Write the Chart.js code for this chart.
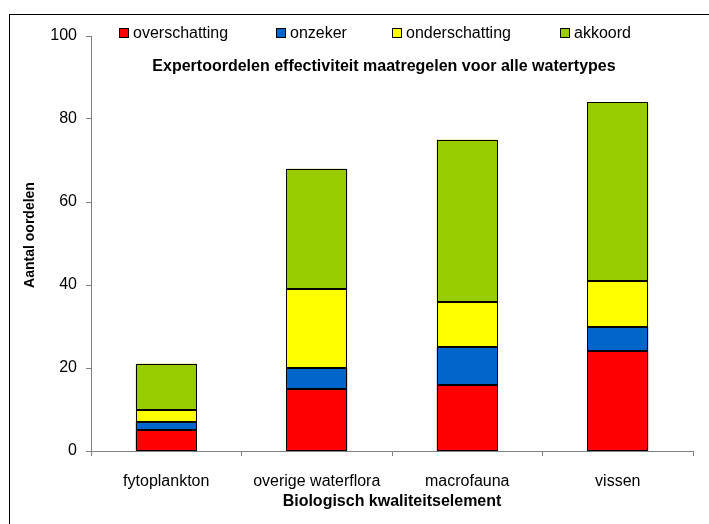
<!DOCTYPE html>
<html>
<head>
<meta charset="utf-8">
<script src="https://cdn.jsdelivr.net/npm/chart.js@4.4.0/dist/chart.umd.min.js"></script>
<style>
  html, body { margin: 0; padding: 0; background: #fff; overflow: hidden; }
  #wrap { position: relative; width: 709px; height: 524px; }
  #frame { position: absolute; left: 9px; top: 14px; width: 800px; height: 600px; border: 1px solid #000; }
  canvas { position: absolute; left: 0; top: 0; }
</style>
</head>
<body>
<div id="wrap">
  <div id="frame"></div>
  <canvas id="grafiek" width="709" height="524"></canvas>
</div>
<script>
// Gegevens
const categorieen = ['fytoplankton', 'overige waterflora', 'macrofauna', 'vissen'];
const overschatting = [5, 15, 16, 24];
const onzeker = [2, 5, 9, 6];
const onderschatting = [3, 19, 11, 11];
const akkoord = [11, 29, 39, 43];
const yTicks = [0, 20, 40, 60, 80, 100];

const FONT = "'Liberation Sans', Arial, sans-serif";

function reeks(label, data, kleur) {
  return {
    label: label,
    data: data,
    backgroundColor: kleur,
    borderWidth: 0,
    inflateAmount: 0,
    categoryPercentage: 1,
    barPercentage: 0.405
  };
}

const dataGrafiek = {
  labels: categorieen,
  datasets: [
    reeks('overschatting', overschatting, '#FF0000'),
    reeks('onzeker', onzeker, '#0066CC'),
    reeks('onderschatting', onderschatting, '#FFFF00'),
    reeks('akkoord', akkoord, '#99CC00')
  ]
};

// scherpe zwarte randen om elk balksegment
const randen = {
  id: 'randen',
  afterDatasetsDraw(chart) {
    const ctx = chart.ctx;
    ctx.save();
    ctx.strokeStyle = '#000';
    ctx.lineWidth = 1;
    chart.data.datasets.forEach((ds, i) => {
      chart.getDatasetMeta(i).data.forEach(bar => {
        const p = bar.getProps(['x', 'y', 'base', 'width'], true);
        const l = Math.round(p.x - p.width / 2) + 0.5;
        const r = Math.round(p.x + p.width / 2) - 0.5;
        const t = Math.round(Math.min(p.y, p.base)) + 0.5;
        const b = Math.round(Math.max(p.y, p.base)) - 0.5;
        ctx.strokeRect(l, t, r - l, b - t);
      });
    });
    ctx.restore();
  }
};

// legenda, titel en y-astitel liggen op vaste plekken
const legendaX = [119, 276, 392, 560];
const titelTekst = 'Expertoordelen effectiviteit maatregelen voor alle watertypes';
const yTitel = 'Aantal oordelen';

const overlay = {
  id: 'overlay',
  afterDraw(chart) {
    const ctx = chart.ctx;
    ctx.save();
    ctx.font = '16px ' + FONT;
    ctx.textBaseline = 'middle';
    chart.data.datasets.forEach((ds, i) => {
      const x = legendaX[i];
      ctx.fillStyle = ds.backgroundColor;
      ctx.fillRect(x + 0.5, 28.5, 9, 9);
      ctx.strokeStyle = '#000';
      ctx.lineWidth = 1;
      ctx.strokeRect(x + 0.5, 28.5, 9, 9);
      ctx.fillStyle = '#000';
      ctx.fillText(ds.label, x + 14, 33.5);
    });
    ctx.font = 'bold 16px ' + FONT;
    ctx.textAlign = 'center';
    ctx.fillText(titelTekst, 384, 67);

    ctx.font = 'bold 14px ' + FONT;
    ctx.translate(30, 235);
    ctx.rotate(-Math.PI / 2);
    ctx.fillText(yTitel, 0, 0);
    ctx.restore();
  }
};

const config = {
  type: 'bar',
  data: dataGrafiek,
  options: {
    responsive: false,
    animation: false,
    layout: { padding: { top: 36, right: 16, bottom: 0, left: 0 } },
    plugins: {
      legend: { display: false },
      title: { display: false },
      tooltip: { enabled: false }
    },
    scales: {
      x: {
        stacked: true,
        grid: { offset: true, drawOnChartArea: false, tickLength: 5, color: '#808080' },
        border: { color: '#808080' },
        ticks: { color: '#000', font: { family: FONT, size: 16 }, padding: 16, maxRotation: 0 },
        title: { display: true, text: 'Biologisch kwaliteitselement', color: '#000',
                 font: { family: FONT, size: 16, weight: 'bold' }, padding: { top: 2, bottom: 13 } },
        afterFit(scale) { scale.height = 73; }
      },
      y: {
        stacked: true,
        min: 0,
        max: 100,
        afterBuildTicks(scale) { scale.ticks = yTicks.map(v => ({ value: v })); },
        grid: { drawOnChartArea: false, tickLength: 5, color: '#808080' },
        border: { color: '#808080' },
        ticks: { color: '#000', font: { family: FONT, size: 16 }, padding: 9 },
        title: { display: false },
        afterFit(scale) { scale.width = 91; }
      }
    }
  },
  plugins: [randen, overlay]
};

new Chart(document.getElementById('grafiek'), config);
</script>
</body>
</html>
